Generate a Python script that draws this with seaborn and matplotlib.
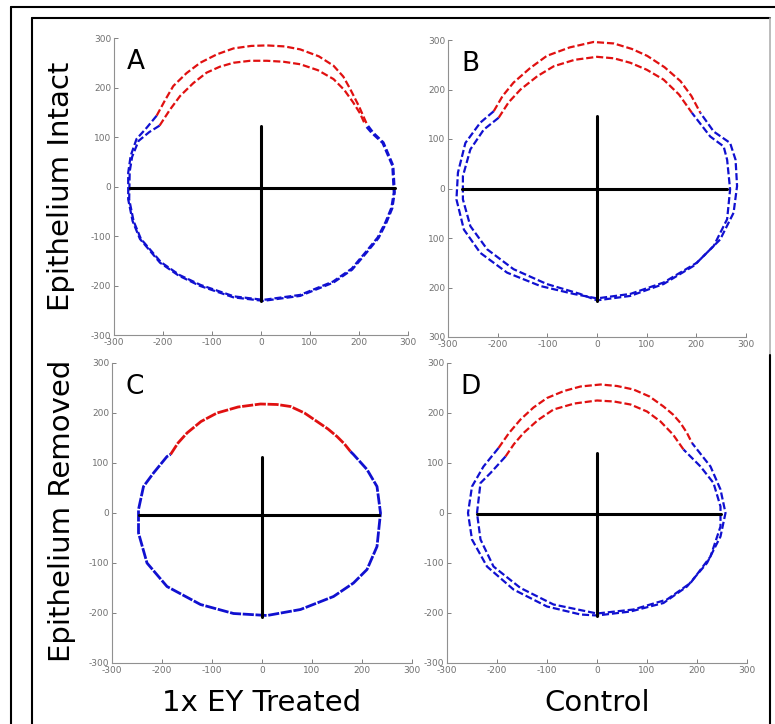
import matplotlib
matplotlib.use("Agg")
import matplotlib.pyplot as plt
from matplotlib.lines import Line2D
import seaborn as sns

# ---------------------------
# Contour data (units as on the axes)
# ---------------------------
# Panel A - 1x EY treated, epithelium intact
A_out_red_x = [-213, -196, -179, -152, -124, -90, -56, -20, 12, 48, 80, 118, 148, 168, 182, 200, 216]
A_out_red_y = [143, 174, 203, 229, 250, 267, 279, 284, 285, 283, 277, 263, 244, 222, 197, 162, 126]
A_in_red_x = [-207, -186, -165, -138, -111, -84, -56, -22, 12, 46, 80, 116, 148, 170, 188, 202, 212]
A_in_red_y = [123, 155, 183, 209, 230, 242, 250, 254, 254, 252, 247, 235, 217, 195, 170, 148, 126]
A_out_blue_x = [-213, -233, -254, -266, -271, -271, -262, -247, -206, -168, -124, -56, 5, 80, 148, 186, 216, 240, 256, 268, 273, 270, 250, 229, 216]
A_out_blue_y = [143, 119, 96, 62, 28, -26, -70, -106, -154, -180, -201, -224, -231, -221, -194, -168, -133, -104, -73, -44, -12, 42, 89, 109, 126]
A_in_blue_x = [-207, -228, -250, -263, -268, -269, -260, -245, -204, -166, -123, -55, 5, 80, 147, 185, 214, 238, 254, 266, 271, 268, 248, 226, 212]
A_in_blue_y = [123, 110, 92, 60, 30, -26, -70, -106, -153, -179, -199, -222, -229, -219, -192, -166, -132, -103, -72, -43, -12, 42, 88, 108, 124]

# Panel B - control, epithelium intact
B_out_red_x = [-208, -190, -168, -135, -101, -55, -7, 34, 70, 101, 136, 168, 190, 208]
B_out_red_y = [156, 187, 214, 243, 268, 285, 296, 293, 282, 268, 245, 217, 187, 153]
B_in_red_x = [-198, -178, -154, -120, -87, -45, 0, 34, 67, 100, 134, 165, 191]
B_in_red_y = [143, 174, 200, 227, 247, 260, 266, 263, 254, 240, 220, 190, 153]
B_out_blue_x = [-208, -235, -265, -280, -283, -268, -235, -181, -114, -47, 0, 67, 134, 201, 248, 275, 282, 279, 268, 235, 208]
B_out_blue_y = [156, 133, 92, 32, -22, -83, -130, -170, -197, -213, -222, -213, -190, -150, -103, -49, 5, 58, 92, 115, 153]
B_in_blue_x = [-198, -228, -255, -270, -270, -255, -221, -168, -101, -34, 0, 67, 134, 195, 235, 262, 268, 262, 255, 228, 191]
B_in_blue_y = [143, 119, 79, 25, -22, -76, -123, -163, -193, -213, -226, -217, -193, -156, -116, -62, -2, 58, 85, 105, 153]

# Panel C - 1x EY treated, epithelium removed
C_red_x = [-183, -168, -150, -122, -90, -48, -3, 30, 57, 85, 110, 132, 150, 165, 177]
C_red_y = [117, 140, 160, 183, 200, 212, 218, 217, 213, 200, 183, 168, 153, 138, 123]
C_blue_x = [177, 183, 210, 230, 237, 230, 210, 183, 143, 77, 10, -57, -123, -190, -230, -247, -247, -237, -217, -190, -183]
C_blue_y = [123, 117, 87, 53, 0, -67, -113, -140, -167, -193, -205, -201, -183, -147, -100, -40, 7, 53, 80, 113, 117]

# Panel D - control, epithelium removed
D_out_red_x = [-197, -176, -153, -127, -100, -66, -33, 7, 40, 73, 105, 133, 152, 167, 180, 190]
D_out_red_y = [130, 160, 187, 211, 230, 244, 253, 257, 254, 247, 233, 213, 197, 180, 160, 140]
D_in_red_x = [-183, -166, -147, -118, -87, -45, 0, 34, 67, 100, 127, 152, 173]
D_in_red_y = [113, 138, 160, 186, 207, 219, 225, 223, 217, 203, 183, 157, 127]
D_out_blue_x = [-197, -227, -250, -258, -250, -220, -167, -100, -33, 0, 67, 133, 180, 220, 247, 257, 247, 227, 190]
D_out_blue_y = [130, 93, 53, 0, -53, -107, -153, -187, -203, -205, -197, -180, -147, -100, -47, 0, 47, 93, 140]
D_in_blue_x = [-183, -213, -233, -240, -233, -207, -153, -87, 0, 73, 140, 187, 227, 247, 247, 233, 207, 173]
D_in_blue_y = [113, 80, 60, 0, -53, -107, -150, -183, -201, -193, -173, -140, -87, -27, 13, 60, 93, 127]

# crosshairs: [x_left, x_right, y_level, y_top, y_bottom]
A_cross = [-267, 273, -3, 122, -232]
B_cross = [-272, 262, -2, 146, -228]
C_cross = [-247, 233, -3, 113, -207]
D_cross = [-240, 247, -1, 120, -205]

ticks = [-300, -200, -100, 0, 100, 200, 300]
tick_labels = ["-300", "-200", "-100", "0", "100", "200", "300"]
B_ytick_labels = ["300", "200", "100", "0", "100", "200", "300"]  # minus signs clipped in original

panel_letters = ["A", "B", "C", "D"]
row_labels = ["Epithelium Intact", "Epithelium Removed"]
col_labels = ["1x EY Treated", "Control"]

RED = "#e01010"
BLUE = "#1010d0"

# ---------------------------
# Figure setup
# ---------------------------
sns.set_theme(style="white")
plt.rcParams["font.family"] = ["DejaVu Sans"]
plt.rcParams["text.color"] = "black"

fig = plt.figure(figsize=(7.75, 7.24), dpi=100)

# axes rectangles in figure fraction (left, bottom, width, height)
positions = {
    "A": [114 / 775, 1 - 335 / 724, 294 / 775, 297 / 724],
    "B": [448 / 775, 1 - 337 / 724, 298 / 775, 297 / 724],
    "C": [112 / 775, 1 - 663 / 724, 300 / 775, 300 / 724],
    "D": [447 / 775, 1 - 663 / 724, 300 / 775, 300 / 724],
}

panels = {
    "A": [(A_out_red_x, A_out_red_y, RED), (A_in_red_x, A_in_red_y, RED),
          (A_out_blue_x, A_out_blue_y, BLUE), (A_in_blue_x, A_in_blue_y, BLUE)],
    "B": [(B_out_red_x, B_out_red_y, RED), (B_in_red_x, B_in_red_y, RED),
          (B_out_blue_x, B_out_blue_y, BLUE), (B_in_blue_x, B_in_blue_y, BLUE)],
    "C": [(C_red_x, C_red_y, RED), (C_blue_x, C_blue_y, BLUE)],
    "D": [(D_out_red_x, D_out_red_y, RED), (D_in_red_x, D_in_red_y, RED),
          (D_out_blue_x, D_out_blue_y, BLUE), (D_in_blue_x, D_in_blue_y, BLUE)],
}
crosses = {"A": A_cross, "B": B_cross, "C": C_cross, "D": D_cross}

for letter in panel_letters:
    ax = fig.add_axes(positions[letter])
    ax.set_facecolor("none")

    for xs, ys, col in panels[letter]:
        if letter == "C":
            # two almost identical outlines -> nearly solid
            sns.lineplot(x=xs, y=ys, sort=False, estimator=None, ax=ax,
                         color=col, lw=2.0, linestyle=(0, (4, 0.6)))
        else:
            sns.lineplot(x=xs, y=ys, sort=False, estimator=None, ax=ax,
                         color=col, lw=1.6, linestyle=(0, (3.2, 1.3)))

    cx = crosses[letter]
    sns.lineplot(x=[cx[0], cx[1]], y=[cx[2], cx[2]], sort=False, estimator=None,
                 ax=ax, color="black", lw=2.2)
    sns.lineplot(x=[0, 0], y=[cx[3], cx[4]], sort=False, estimator=None,
                 ax=ax, color="black", lw=2.2)

    ax.set_xlim(-300, 300)
    ax.set_ylim(-300, 300)
    ax.set_xticks(ticks)
    ax.set_yticks(ticks)
    ax.set_xticklabels(tick_labels)
    ax.set_yticklabels(B_ytick_labels if letter == "B" else tick_labels)
    ax.tick_params(direction="in", length=3, width=0.7, color="#808080",
                   labelcolor="#707070", labelsize=6.5, pad=2,
                   bottom=True, left=True)
    for side in ["top", "right"]:
        ax.spines[side].set_visible(False)
    for side in ["left", "bottom"]:
        ax.spines[side].set_color("#909090")
        ax.spines[side].set_linewidth(0.8)

    ax.text(0.045, 0.92, letter, transform=ax.transAxes, fontsize=19,
            va="center", ha="left", color="black")

# ---------------------------
# Row / column labels
# ---------------------------
fig.text(61 / 775, 1 - 186 / 724, row_labels[0], rotation=90, fontsize=21,
         ha="center", va="center", color="black")
fig.text(62 / 775, 1 - 511 / 724, row_labels[1], rotation=90, fontsize=21,
         ha="center", va="center", color="black")
fig.text(262 / 775, 1 - 703 / 724, col_labels[0], fontsize=21,
         ha="center", va="center", color="black")
fig.text(597 / 775, 1 - 703 / 724, col_labels[1], fontsize=21,
         ha="center", va="center", color="black")

# ---------------------------
# Frames around the figure
# ---------------------------
# outer frame: top + left
fig.add_artist(Line2D([11 / 775, 1.0], [1 - 7 / 724, 1 - 7 / 724], color="black", lw=1.5))
fig.add_artist(Line2D([11 / 775, 11 / 775], [0, 1 - 7 / 724], color="black", lw=1.5))
# inner frame: top, left, right
fig.add_artist(Line2D([32 / 775, 770 / 775], [1 - 18 / 724, 1 - 18 / 724], color="black", lw=1.5))
fig.add_artist(Line2D([32 / 775, 32 / 775], [0, 1 - 18 / 724], color="black", lw=1.5))
fig.add_artist(Line2D([770 / 775, 770 / 775], [1 - 18 / 724, 1 - 355 / 724], color="#b0b0b0", lw=1.2))
fig.add_artist(Line2D([770 / 775, 770 / 775], [0, 1 - 355 / 724], color="black", lw=1.5))

plt.savefig("out.png", dpi=100)
plt.close()
